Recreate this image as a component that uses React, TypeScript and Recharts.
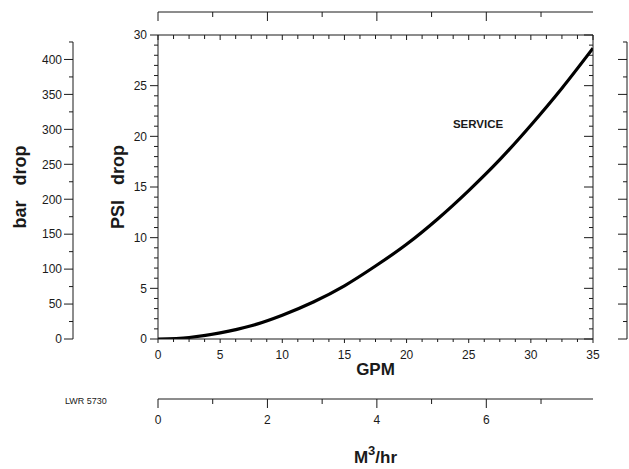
import React from 'react';
import { LineChart, Line, XAxis, YAxis, ReferenceDot, ReferenceLine } from 'recharts';

// ---- data ----
const GPM = [0, 2.5, 5, 7.5, 10, 12.5, 15, 17.5, 20, 22.5, 25, 27.5, 30, 32.5, 35];
const PSI_DROP = [0, 0.15, 0.6, 1.3, 2.35, 3.65, 5.25, 7.2, 9.35, 11.85, 14.65, 17.7, 21.1, 24.75, 28.7];
const CURVE_NAME = 'SERVICE';
const CURVE_LABEL_AT = { gpm: 25.75, psi: 21.2 };
const DOC_CODE = 'LWR 5730';

const GPM_MAX = 35;
const PSI_MAX = 30;
const BAR_MAX = 435;
const M3_MAX = 7.95;

const GPM_LABELS = [0, 5, 10, 15, 20, 25, 30, 35];
const PSI_LABELS = [0, 5, 10, 15, 20, 25, 30];
const BAR_LABELS = [0, 50, 100, 150, 200, 250, 300, 350, 400];
const M3_LABELS = [0, 2, 4, 6];

const steps = (max: number, step: number) => {
  const out: number[] = [];
  for (let i = 0; i * step <= max + 1e-9; i++) out.push(+(i * step).toFixed(4));
  return out;
};
const GPM_TICKS = steps(35, 1.25);
const PSI_TICKS = steps(30, 1);
const BAR_TICKS = steps(425, 25);
const M3_TICKS = steps(7, 1);
const BAR_TOP_TICK = BAR_TICKS[BAR_TICKS.length - 1];

const data = GPM.map((g, i) => ({ gpm: g, psi: PSI_DROP[i] }));

const FONT = '"Liberation Sans", Arial, Helvetica, sans-serif';
const INK = '#1a1a1a';

// layout: outer right bar-scale axis sits RIGHT_GAP px right of the plot frame
const RIGHT_GAP = 34;
const PLOT_W = 435;
const GPM_PER_PX = GPM_MAX / PLOT_W;
const RIGHT_AXIS_AT = GPM_MAX + RIGHT_GAP * GPM_PER_PX;
const MAJOR_LEN = 9 * GPM_PER_PX;
const MINOR_LEN = 4 * GPM_PER_PX;

type TickOpts = {
  dir: 'left' | 'right' | 'up' | 'down';
  major: number;
  majorLen: number;
  minorLen: number;
  labels?: number[];
  labelGap?: number;
};

const near = (a: number, b: number) => Math.abs(a - b) < 1e-6;
const isMult = (v: number, m: number) => near(v / m, Math.round(v / m));

function makeTick(o: TickOpts) {
  return (props: any) => {
    const { payload } = props;
    const x = props.x;
    const y = props.y;
    const v = Number(payload.value);
    const len = isMult(v, o.major) ? o.majorLen : o.minorLen;
    let x2 = x;
    let y2 = y;
    if (o.dir === 'left') x2 = x - len;
    if (o.dir === 'right') x2 = x + len;
    if (o.dir === 'up') y2 = y - len;
    if (o.dir === 'down') y2 = y + len;
    const show = o.labels ? o.labels.some((l) => near(l, v)) : false;
    let label: any = null;
    if (show) {
      if (o.dir === 'left') {
        label = (
          <text x={x - (o.labelGap || 10)} y={y} dy="0.36em" textAnchor="end" fontSize={12} fontFamily={FONT} fill={INK}>
            {String(v)}
          </text>
        );
      } else {
        label = (
          <text x={x} y={y + (o.labelGap || 20)} textAnchor="middle" fontSize={12} fontFamily={FONT} fill={INK}>
            {String(v)}
          </text>
        );
      }
    }
    return (
      <g>
        <line x1={x} y1={y} x2={x2} y2={y2} stroke={INK} strokeWidth={1} />
        {label}
      </g>
    );
  };
}

const axisLine = { stroke: INK, strokeWidth: 1 };
const bareTicks = { tickSize: 0, tickMargin: 0, tickLine: false as const, interval: 0 as const, allowDataOverflow: true };

const yTitleText = (text: string, cx: number, cy: number) => (
  <text
    x={cx}
    y={cy}
    transform={`rotate(-90 ${cx} ${cy})`}
    textAnchor="middle"
    dominantBaseline="central"
    fontSize={18}
    fontWeight="bold"
    fontFamily={FONT}
    fill={INK}
  >
    {text}
  </text>
);

const psiTitle = (p: any) => {
  const vb = p.viewBox || {};
  return yTitleText('PSI\u00a0\u00a0\u00a0drop', vb.x + 44.5, vb.y + vb.height / 2);
};

const barTitle = (p: any) => {
  const vb = p.viewBox || {};
  const top = vb.y + vb.height * (1 - BAR_TOP_TICK / BAR_MAX);
  const sx = vb.x + vb.width;
  return (
    <g>
      <line x1={sx} y1={top} x2={sx} y2={vb.y + vb.height} stroke={INK} strokeWidth={1} />
      {yTitleText('bar\u00a0\u00a0\u00a0drop', vb.x + 19.5, vb.y + vb.height / 2)}
    </g>
  );
};

const gpmTitle = (p: any) => {
  const vb = p.viewBox || {};
  return (
    <text x={vb.x + vb.width / 2} y={vb.y + 36} textAnchor="middle" fontSize={17} fontWeight="bold" fontFamily={FONT} fill={INK}>
      GPM
    </text>
  );
};

const m3Title = (p: any) => {
  const vb = p.viewBox || {};
  return (
    <g>
      <text x={vb.x + vb.width / 2} y={vb.y + 64} textAnchor="middle" fontSize={17} fontWeight="bold" fontFamily={FONT} fill={INK}>
        <tspan>M</tspan>
        <tspan dy={-8} fontSize={13}>3</tspan>
        <tspan dy={8}>/hr</tspan>
      </text>
      <text x={vb.x - 93} y={vb.y + 5} textAnchor="start" fontSize={9} fontFamily={FONT} fill={INK}>
        {DOC_CODE}
      </text>
    </g>
  );
};

const curveLabel = (p: any) => {
  const vb = p.viewBox || {};
  const cx = vb.x + (vb.width || 0) / 2;
  const cy = vb.y + (vb.height || 0) / 2;
  return (
    <text x={cx} y={cy} dy="0.36em" textAnchor="middle" fontSize={11.5} fontWeight="bold" fontFamily={FONT} fill={INK}>
      {CURVE_NAME}
    </text>
  );
};

const tickM3Top = makeTick({ dir: 'down', major: 2, majorLen: 9, minorLen: 5 });
const tickGpmTop = makeTick({ dir: 'down', major: 5, majorLen: 5, minorLen: 4 });
const tickGpm = makeTick({ dir: 'down', major: 5, majorLen: 4, minorLen: 3, labels: GPM_LABELS, labelGap: 20 });
const tickM3 = makeTick({ dir: 'down', major: 2, majorLen: 9, minorLen: 5, labels: M3_LABELS, labelGap: 25 });
const tickPsi = makeTick({ dir: 'left', major: 5, majorLen: 8, minorLen: 4, labels: PSI_LABELS, labelGap: 11 });
const tickBar = makeTick({ dir: 'left', major: 50, majorLen: 9, minorLen: 4, labels: BAR_LABELS, labelGap: 11 });
const tickPsiRight = makeTick({ dir: 'left', major: 5, majorLen: 9, minorLen: 4 });

const DOM_UNIT: [number, number] = [0, 1];
const DOM_GPM: [number, number] = [0, GPM_MAX];
const DOM_PSI: [number, number] = [0, PSI_MAX];
const DOM_BAR: [number, number] = [0, BAR_MAX];
const DOM_M3: [number, number] = [0, M3_MAX];

const RIGHT_SPINE = [
  { x: RIGHT_AXIS_AT, y: 0 },
  { x: RIGHT_AXIS_AT, y: BAR_TOP_TICK },
];
const RIGHT_TICK_SEGMENTS = BAR_TICKS.map((b) => [
  { x: RIGHT_AXIS_AT - (isMult(b, 50) ? MAJOR_LEN : MINOR_LEN), y: b },
  { x: RIGHT_AXIS_AT, y: b },
]);

export default function App() {
  return (
    <div style={{ position: 'absolute', left: 0, top: 0, width: 629, height: 469, background: '#fff' }}>
      <LineChart width={629} height={469} data={data} margin={{ top: 2, right: RIGHT_GAP + 2, bottom: 0, left: 0 }}>
        {/* top stack: gap nearest to plot, then outer m3 scale */}
        <XAxis xAxisId="a_topGap" orientation="top" type="number" dataKey="none" domain={DOM_UNIT} height={23} axisLine={false} tick={false} tickLine={false} />
        <XAxis
          xAxisId="b_m3Top"
          orientation="top"
          type="number"
          dataKey="none"
          domain={DOM_M3}
          ticks={M3_TICKS}
          height={10}
          axisLine={axisLine}
          {...bareTicks}
          tick={tickM3Top}
        />
        <XAxis
          xAxisId="gpmTop"
          orientation="top"
          mirror
          type="number"
          dataKey="none"
          domain={DOM_GPM}
          ticks={GPM_TICKS}
          axisLine={axisLine}
          {...bareTicks}
          tick={tickGpmTop}
        />
        {/* bottom stack */}
        <XAxis
          xAxisId="a_gpm"
          dataKey="gpm"
          type="number"
          domain={DOM_GPM}
          ticks={GPM_TICKS}
          height={60}
          axisLine={axisLine}
          {...bareTicks}
          tick={tickGpm}
          label={gpmTitle}
        />
        <XAxis
          xAxisId="b_m3"
          type="number"
          dataKey="none"
          domain={DOM_M3}
          ticks={M3_TICKS}
          height={70}
          axisLine={axisLine}
          {...bareTicks}
          tick={tickM3}
          label={m3Title}
        />
        {/* left stack */}
        <YAxis
          yAxisId="a_psi"
          type="number"
          domain={DOM_PSI}
          ticks={PSI_TICKS}
          width={85}
          axisLine={axisLine}
          {...bareTicks}
          tick={tickPsi}
          label={psiTitle}
        />
        <YAxis
          yAxisId="b_bar"
          type="number"
          dataKey="none"
          domain={DOM_BAR}
          ticks={BAR_TICKS}
          width={73}
          axisLine={false}
          {...bareTicks}
          tick={tickBar}
          label={barTitle}
        />
        {/* right frame */}
        <YAxis
          yAxisId="psiRight"
          orientation="right"
          mirror
          type="number"
          dataKey="none"
          domain={DOM_PSI}
          ticks={PSI_TICKS}
          axisLine={axisLine}
          {...bareTicks}
          tick={tickPsiRight}
        />
        {/* outer right bar-scale axis, placed through the gpm and bar scales */}
        <ReferenceLine
          xAxisId="a_gpm"
          yAxisId="b_bar"
          segment={RIGHT_SPINE}
          ifOverflow="visible"
          stroke={INK}
          strokeWidth={1}
        />
        {RIGHT_TICK_SEGMENTS.map((seg, i) => (
          <ReferenceLine
            key={`rt${i}`}
            xAxisId="a_gpm"
            yAxisId="b_bar"
            segment={seg}
            ifOverflow="visible"
            stroke={INK}
            strokeWidth={1}
          />
        ))}
        <Line
          xAxisId="a_gpm"
          yAxisId="a_psi"
          type="monotone"
          dataKey="psi"
          stroke="#000"
          strokeWidth={3.2}
          dot={false}
          isAnimationActive={false}
        />
        <ReferenceDot
          xAxisId="a_gpm"
          yAxisId="a_psi"
          x={CURVE_LABEL_AT.gpm}
          y={CURVE_LABEL_AT.psi}
          r={1}
          fill="none"
          stroke="none"
          label={curveLabel}
        />
      </LineChart>
    </div>
  );
}
